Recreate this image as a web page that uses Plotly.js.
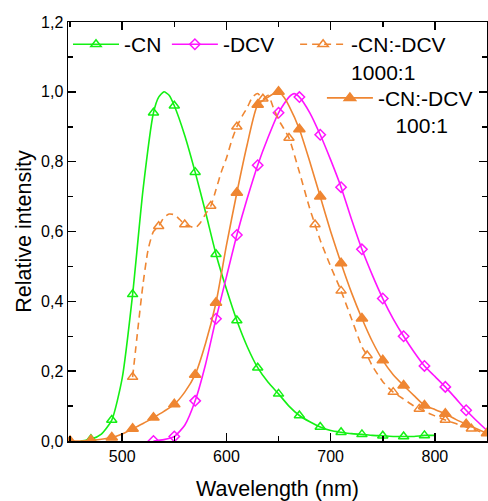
<!DOCTYPE html>
<html>
<head>
<meta charset="utf-8">
<script src="https://cdn.plot.ly/plotly-3.0.1.min.js"></script>
<style>html,body{margin:0;padding:0;background:#fff;}#chart{width:488px;height:501px;}</style>
</head>
<body>
<div id="chart"></div>
<script>
// ---- data ----
const cnX = [460,470,480,490,500,510,520,530,535,540,545,550,560,570,580,590,600,610,620,630,640,650,660,670,680,690,700,710,720,730,740,750,760,770,780,790,800];
const cnY = [0.0,0.005,0.02,0.06,0.18,0.42,0.72,0.94,0.985,1.0,0.99,0.96,0.875,0.77,0.655,0.535,0.435,0.345,0.27,0.21,0.168,0.135,0.10,0.073,0.055,0.04,0.03,0.025,0.021,0.019,0.016,0.015,0.013,0.013,0.013,0.016,0.016];
const cnMarkX = [470,490,510,530,550,570,590,610,630,650,670,690,710,730,750,770,790];

const dcvX = [530,540,550,560,570,580,590,600,610,620,630,640,650,660,665,670,680,690,700,710,720,730,740,750,760,770,780,790,800,810,820,830,840,850];
const dcvY = [0.0,0.004,0.013,0.045,0.115,0.22,0.35,0.47,0.59,0.695,0.79,0.87,0.94,0.985,0.995,0.985,0.94,0.877,0.805,0.727,0.635,0.549,0.475,0.408,0.35,0.30,0.255,0.215,0.185,0.155,0.122,0.088,0.058,0.03];
const dcvMarkX = [530,550,570,590,610,630,650,670,690,710,730,750,770,790,810,830];

const mix1000X = [510,515,520,525,530,535,540,545,550,555,560,565,570,575,580,585,590,595,600,605,610,615,620,625,630,635,640,645,650,655,660,670,680,685,690,700,710,720,730,735,740,750,760,770,780,785,790,800,810,820,830,835,840,850];
const mix1000Y = [0.183,0.32,0.45,0.55,0.60,0.615,0.64,0.65,0.648,0.635,0.62,0.615,0.61,0.625,0.65,0.673,0.72,0.77,0.81,0.86,0.90,0.93,0.955,0.985,0.995,0.98,0.99,0.955,0.92,0.895,0.868,0.77,0.665,0.62,0.575,0.50,0.43,0.35,0.27,0.245,0.215,0.17,0.14,0.12,0.10,0.092,0.085,0.072,0.06,0.05,0.04,0.035,0.03,0.02];
const mix1000MarkX = [510,535,560,585,610,635,660,685,710,735,760,785,810,835];

const mix100X = [450,460,470,480,490,500,510,520,530,540,550,560,570,580,590,600,610,620,630,640,650,655,660,670,680,690,700,710,720,730,740,750,760,770,780,790,800,810,820,830,840,850];
const mix100Y = [0.0,0.0,0.002,0.005,0.01,0.02,0.035,0.05,0.067,0.085,0.105,0.14,0.19,0.28,0.396,0.56,0.711,0.85,0.963,0.985,1.0,0.985,0.96,0.893,0.80,0.70,0.60,0.509,0.425,0.351,0.285,0.231,0.19,0.159,0.13,0.102,0.09,0.078,0.062,0.048,0.035,0.022];
const mix100MarkX = [450,470,490,510,530,550,570,590,610,630,650,670,690,710,730,750,770,790,810,830,850];

const seriesNames = ['-CN', '-DCV', '-CN:-DCV<br>1000:1', '-CN:-DCV<br>&nbsp;&nbsp;&nbsp;100:1'];
const xTickVals = [500, 600, 700, 800];
const xTickText = ['500', '600', '700', '800'];
const yTickVals = [0, 0.2, 0.4, 0.6, 0.8, 1.0, 1.2];
const yTickText = ['0,0', '0,2', '0,4', '0,6', '0,8', '1,0', '1,2'];

// ---- styling ----
const FONT = 'Liberation Sans, Arial, Helvetica, sans-serif';
const GREEN = '#14f014';
const MAGENTA = '#ff14ff';
const ORANGE = '#ef8632';

function pick(xs, ys, mx) {
  return mx.map(v => ys[xs.indexOf(v)]);
}

const specs = [
  {x: cnX, y: cnY, mx: cnMarkX, color: GREEN, dash: 'solid', symbol: 'triangle-up-open', size: 9, legend: 'legend'},
  {x: dcvX, y: dcvY, mx: dcvMarkX, color: MAGENTA, dash: 'solid', symbol: 'diamond-open', size: 8, legend: 'legend2'},
  {x: mix1000X, y: mix1000Y, mx: mix1000MarkX, color: ORANGE, dash: '7px,5px', symbol: 'triangle-up-open', size: 9, legend: 'legend3'},
  {x: mix100X, y: mix100Y, mx: mix100MarkX, color: ORANGE, dash: 'solid', symbol: 'triangle-up', size: 10, legend: 'legend4'}
];

const traces = [];
specs.forEach((s, i) => {
  traces.push({
    x: s.x, y: s.y, type: 'scatter', mode: 'lines',
    line: {color: s.color, width: 1.6, dash: s.dash, shape: 'spline', smoothing: 0.6},
    showlegend: false, hoverinfo: 'skip'
  });
  traces.push({
    x: s.mx, y: pick(s.x, s.y, s.mx), type: 'scatter', mode: 'markers',
    marker: {symbol: s.symbol, size: s.size, color: s.color, line: {color: s.color, width: 1.5}},
    showlegend: false
  });
  traces.push({
    x: [null], y: [null], type: 'scatter', mode: 'lines+markers', name: seriesNames[i],
    line: {color: s.color, width: 1.6, dash: s.dash},
    marker: {symbol: s.symbol, size: s.size, color: s.color, line: {color: s.color, width: 1.5}},
    legend: s.legend, showlegend: true
  });
});

function legendAt(x, y) {
  return {x: x, y: y, xanchor: 'left', yanchor: 'top', bgcolor: 'rgba(0,0,0,0)', borderwidth: 0,
    font: {family: FONT, size: 21, color: '#000'}, itemwidth: 46, valign: 'top', tracegroupgap: 0};
}

const axisCommon = {
  showline: true, linecolor: '#000', linewidth: 1.5, mirror: 'allticks',
  ticks: 'inside', ticklen: 8, tickwidth: 1.5, tickcolor: '#000',
  showgrid: false, zeroline: false,
  tickfont: {family: FONT, size: 16, color: '#000'}
};

const layout = {
  width: 488, height: 501,
  margin: {l: 68, r: 1, t: 22, b: 60},
  paper_bgcolor: '#fff', plot_bgcolor: '#fff',
  font: {family: FONT, color: '#000'},
  xaxis: Object.assign({}, axisCommon, {
    range: [448, 850], tickmode: 'array', tickvals: xTickVals, ticktext: xTickText,
    minor: {tickvals: [450, 550, 650, 750, 850], ticks: 'inside', ticklen: 5, tickwidth: 1.5, tickcolor: '#000'},
    title: {text: 'Wavelength (nm)', font: {family: FONT, size: 21.5, color: '#000'}, standoff: 17}
  }),
  yaxis: Object.assign({}, axisCommon, {
    range: [0, 1.2], tickmode: 'array', tickvals: yTickVals, ticktext: yTickText,
    minor: {tickvals: [0.1, 0.3, 0.5, 0.7, 0.9, 1.1], ticks: 'inside', ticklen: 5, tickwidth: 1.5, tickcolor: '#000'},
    title: {text: 'Relative intensity', font: {family: FONT, size: 21.5, color: '#000'}, standoff: 3}
  }),
  legend: legendAt(0.0, 0.995),
  legend2: legendAt(0.236, 0.995),
  legend3: legendAt(0.542, 0.995),
  legend4: legendAt(0.606, 0.867)
};

Plotly.newPlot('chart', traces, layout, {staticPlot: true, displayModeBar: false});
</script>
</body>
</html>
